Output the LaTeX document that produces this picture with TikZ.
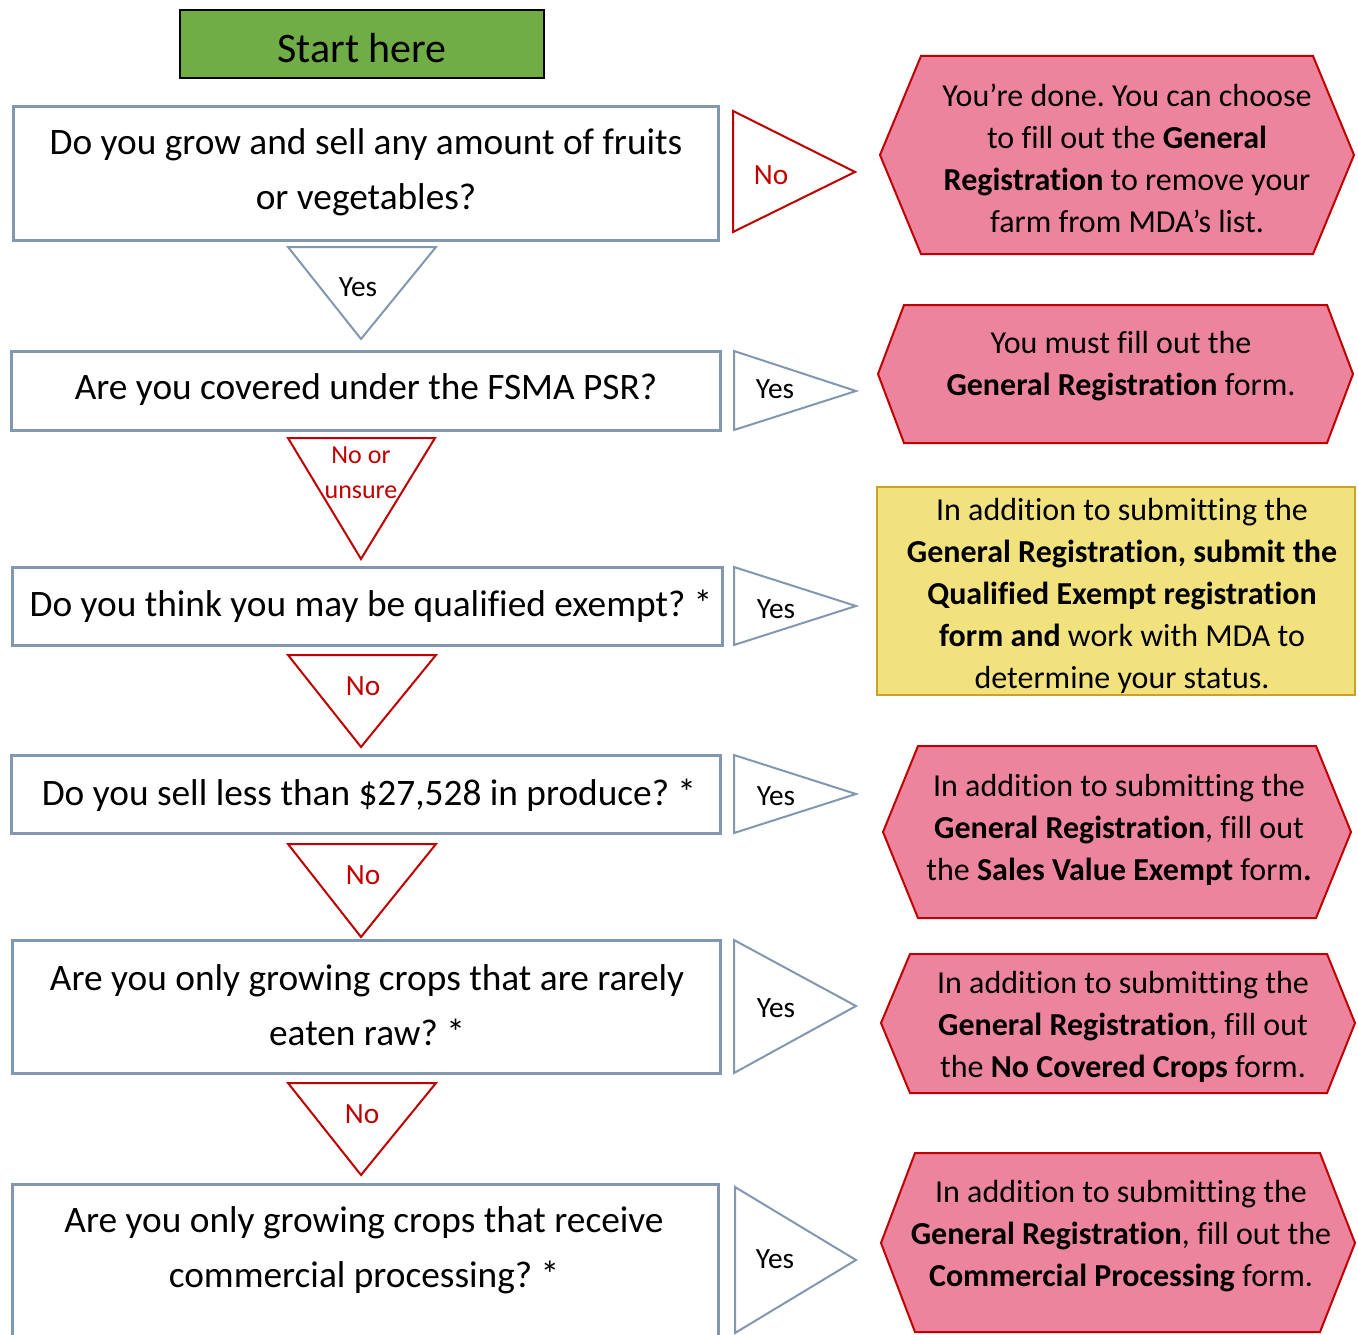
\documentclass[tikz,border=0pt]{standalone}
\usepackage{fontspec}
\setmainfont{Carlito}[Ligatures=NoCommon]
\frenchspacing

\definecolor{frameblue}{RGB}{132,151,176}
\definecolor{alertred}{RGB}{192,0,0}
\definecolor{hexpink}{RGB}{237,132,157}
\definecolor{startgreen}{RGB}{112,173,71}
\definecolor{noteyellow}{RGB}{242,226,126}
\definecolor{noteedge}{RGB}{201,162,39}

\tikzset{
  qbox/.style={draw=frameblue, line width=2.25},
  qtext/.style={align=center, font=\fontsize{28}{41.25}\selectfont},
  yesmark/.style={draw=frameblue, fill=white, line width=1.5},
  nomark/.style={draw=alertred, fill=white, line width=1.5},
  hexshape/.style={draw=alertred, fill=hexpink, line width=1.5},
  outtext/.style={align=center, font=\fontsize{24}{31.5}\selectfont},
  marktext/.style={font=\fontsize{22}{26}\selectfont},
}

\begin{document}
\begin{tikzpicture}[x=0.75pt,y=0.75pt,yscale=-1,xscale=1]
\useasboundingbox (0,0) rectangle (1358,1334);

%Shape: Rectangle [start]
\draw [fill=startgreen, line width=1.5] (180,10) rectangle (544,78);
\node [font=\fontsize{31.5}{36}\selectfont] (start) at (362,48) {Start here};

%Shape: Rectangle [questions]
\draw [qbox] (13,107) rectangle (718,240);
\node [qtext] (q1) at (366,172) {Do you grow and sell any amount of fruits\\or vegetables?};
\draw [qbox] (11,351) rectangle (720,430);
\node [qtext] (q2) at (366,390) {Are you covered under the FSMA PSR?};
\draw [qbox] (12,567) rectangle (722,645);
\node [qtext] (q3) at (371,606) {Do you think you may be qualified exempt? *};
\draw [qbox] (11,755) rectangle (720,833);
\node [qtext] (q4) at (369,795) {Do you sell less than \$27,528 in produce? *};
\draw [qbox] (12,940) rectangle (720,1073);
\node [qtext] (q5) at (367,1005) {Are you only growing crops that are rarely\\eaten raw? *};
\draw [qbox] (12,1345) -- (12,1184) -- (718,1184) -- (718,1345);
\node [qtext] (q6) at (364,1250) {Are you only growing crops that receive\\commercial processing? *};

%Shape: Triangle [down]
\draw [yesmark] (288,247) -- (436,247) -- (361,339) -- cycle;
\node [marktext] (d1) at (358,287) {Yes};
\draw [nomark] (288,438) -- (435,438) -- (361,559) -- cycle;
\node [marktext, text=alertred, align=center, font=\fontsize{19.5}{26}\selectfont] (d2) at (361,473) {No or\\unsure};
\draw [nomark] (288,655) -- (436,655) -- (361,747) -- cycle;
\node [marktext, text=alertred] (d3) at (363,686) {No};
\draw [nomark] (288,844) -- (436,844) -- (361,937) -- cycle;
\node [marktext, text=alertred] (d4) at (363,875) {No};
\draw [nomark] (288,1083) -- (436,1083) -- (361,1175) -- cycle;
\node [marktext, text=alertred] (d5) at (362,1114) {No};

%Shape: Triangle [right]
\draw [nomark] (733,111) -- (855,172) -- (733,232) -- cycle;
\node [marktext, text=alertred] (r1) at (771,175) {No};
\draw [yesmark] (734,351) -- (856,391) -- (734,430) -- cycle;
\node [marktext] (r2) at (775,389) {Yes};
\draw [yesmark] (734,567) -- (856,606) -- (734,645) -- cycle;
\node [marktext] (r3) at (776,609) {Yes};
\draw [yesmark] (734,755) -- (856,794) -- (734,833) -- cycle;
\node [marktext] (r4) at (776,796) {Yes};
\draw [yesmark] (734,940) -- (856,1006) -- (734,1073) -- cycle;
\node [marktext] (r5) at (776,1008) {Yes};
\draw [yesmark] (735,1187) -- (856,1260) -- (735,1333) -- cycle;
\node [marktext] (r6) at (775,1259) {Yes};

%Shape: Hexagon [outcomes]
\draw [hexshape] (880,155) -- (921,56) -- (1313,56) -- (1354,155) -- (1313,254) -- (921,254) -- cycle;
\node [outtext] (a1) at (1127,158) {You’re done. You can choose\\to fill out the \textbf{General}\\\textbf{Registration} to remove your\\farm from MDA’s list.};
\draw [hexshape] (878,374) -- (904,305) -- (1327,305) -- (1353,374) -- (1327,443) -- (904,443) -- cycle;
\node [outtext] (a2) at (1121,366) {You must fill out the\\\textbf{General Registration} form.};
%Shape: Rectangle [qualified exempt]
\draw [draw=noteedge, fill=noteyellow, line width=1.5] (877,487) rectangle (1355,695);
\node [outtext] (a3) at (1122,596) {In addition to submitting the\\\textbf{General Registration, submit the}\\\textbf{Qualified Exempt registration}\\\textbf{form and} work with MDA to\\determine your status.};
\draw [hexshape] (883,832) -- (918,746) -- (1316,746) -- (1351,832) -- (1316,918) -- (918,918) -- cycle;
\node [outtext] (a4) at (1119,830) {In addition to submitting the\\\textbf{General Registration}, fill out\\the \textbf{Sales Value Exempt} form\textbf{.}};
\draw [hexshape] (881,1023) -- (910,954) -- (1327,954) -- (1355,1023) -- (1327,1093) -- (910,1093) -- cycle;
\node [outtext] (a5) at (1123,1027) {In addition to submitting the\\\textbf{General Registration}, fill out\\the \textbf{No Covered Crops} form.};
\draw [hexshape] (881,1243) -- (915,1153) -- (1320,1153) -- (1355,1243) -- (1320,1332) -- (915,1332) -- cycle;
\node [outtext] (a6) at (1121,1236) {In addition to submitting the\\\textbf{General Registration}, fill out the\\\textbf{Commercial Processing} form.};

\end{tikzpicture}
\end{document}
